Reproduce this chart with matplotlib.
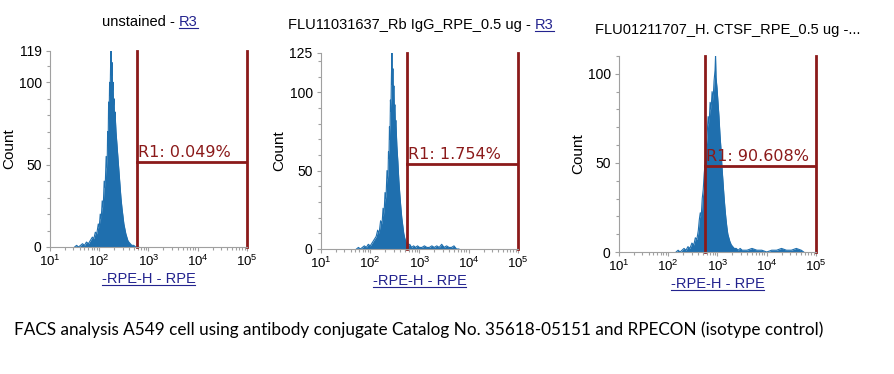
"""FACS histograms (A549, RPE channel): unstained, isotype control, CTSF antibody."""
import matplotlib
matplotlib.use("Agg")
import matplotlib.pyplot as plt
from matplotlib.lines import Line2D
from matplotlib.ticker import FixedLocator, LogLocator, NullFormatter

plt.rcParams["font.family"] = ["Liberation Sans", "DejaVu Sans"]
plt.rcParams["mathtext.fontset"] = "custom"
plt.rcParams["mathtext.rm"] = "Liberation Sans"

TITLES = ["unstained - ", "FLU11031637_Rb IgG_RPE_0.5 ug - ", "FLU01211707_H. CTSF_RPE_0.5 ug -..."]
TITLE_LINKS = ["R3", "R3", ""]
GATE_LABELS = ["R1: 0.049%", "R1: 1.754%", "R1: 90.608%"]
GATE_LOW = [590, 570, 556]
GATE_LEVEL = [51.6, 54.3, 48]
Y_MAX = [119, 125, 110]
CAPTION = "FACS analysis A549 cell using antibody conjugate Catalog No. 35618-05151 and RPECON (isotype control)"

# histograms: log10(RPE-H) bin position vs. event count
p1_log = [1.50, 1.54, 1.58, 1.62, 1.66, 1.70, 1.74, 1.78, 1.82, 1.86, 1.89, 1.92, 1.95, 1.98,
          2.00, 2.02, 2.04, 2.06, 2.08, 2.10, 2.12, 2.14, 2.16, 2.17, 2.18, 2.19, 2.20, 2.21,
          2.22, 2.23, 2.24, 2.25, 2.26, 2.27, 2.28, 2.29, 2.30, 2.31, 2.32, 2.34, 2.36, 2.38,
          2.40, 2.42, 2.44, 2.46, 2.48, 2.50, 2.52, 2.54, 2.56, 2.58, 2.60, 2.63, 2.66, 2.70,
          2.74, 2.80]
p1_count = [0, 1, 0, 1, 2, 1, 3, 2, 4, 6, 5, 9, 8, 14,
            12, 20, 17, 28, 24, 40, 36, 55, 48, 70, 62, 88, 78, 100,
            92, 110, 119, 104, 112, 95, 100, 86, 90, 78, 82, 70, 62, 54,
            46, 38, 30, 24, 19, 14, 11, 8, 6, 4, 3, 2, 1, 1,
            0, 0]

p2_log = [1.72, 1.76, 1.80, 1.84, 1.88, 1.92, 1.96, 2.00, 2.04, 2.08, 2.12, 2.15, 2.18, 2.21,
          2.24, 2.26, 2.28, 2.30, 2.32, 2.34, 2.36, 2.37, 2.38, 2.39, 2.40, 2.41, 2.42, 2.43,
          2.44, 2.45, 2.46, 2.47, 2.48, 2.49, 2.50, 2.51, 2.52, 2.54, 2.56, 2.58, 2.60, 2.62,
          2.64, 2.66, 2.68, 2.70, 2.72, 2.74, 2.76, 2.78, 2.80, 2.84, 2.88, 2.92, 2.96, 3.00,
          3.05, 3.10, 3.15, 3.20, 3.25, 3.30, 3.35, 3.40, 3.45, 3.50, 3.55, 3.60, 3.65, 3.70,
          3.75, 3.80]
p2_count = [0, 1, 0, 1, 2, 1, 3, 2, 4, 6, 8, 12, 10, 18,
            16, 26, 22, 36, 32, 50, 45, 62, 58, 78, 70, 95, 88, 110,
            125, 105, 115, 98, 104, 88, 92, 78, 82, 66, 56, 44, 35, 27,
            20, 15, 10, 7, 5, 3, 4, 2, 3, 1, 2, 1, 2, 1,
            1, 2, 1, 1, 2, 1, 2, 1, 3, 1, 2, 1, 1, 2,
            0, 0]

p3_log = [2.16, 2.20, 2.24, 2.28, 2.32, 2.36, 2.40, 2.44, 2.48, 2.52, 2.55, 2.58, 2.61, 2.63,
          2.65, 2.67, 2.69, 2.71, 2.73, 2.75, 2.77, 2.79, 2.81, 2.83, 2.85, 2.87, 2.89, 2.91,
          2.93, 2.95, 2.96, 2.97, 2.99, 3.01, 3.03, 3.05, 3.07, 3.09, 3.11, 3.13, 3.15, 3.17,
          3.19, 3.21, 3.23, 3.25, 3.28, 3.31, 3.34, 3.38, 3.42, 3.46, 3.50, 3.55, 3.60, 3.70,
          3.80, 3.90, 4.00, 4.10, 4.20, 4.30, 4.40, 4.50, 4.60, 4.70, 4.75]
p3_count = [0, 1, 0, 1, 2, 1, 3, 2, 5, 4, 8, 7, 12, 18,
            22, 20, 30, 35, 44, 50, 58, 66, 76, 72, 84, 80, 90, 85,
            96, 102, 110, 98, 92, 84, 76, 66, 58, 48, 40, 32, 25, 19,
            14, 10, 8, 6, 4, 3, 2, 2, 1, 2, 1, 1, 1, 2,
            1, 1, 0, 1, 1, 2, 1, 1, 2, 1, 0]

HISTS = [(p1_log, p1_count), (p2_log, p2_count), (p3_log, p3_count)]

# layout in figure pixels (left, top, width, height)
AX_BOXES = [(50, 51, 197, 196), (321, 53, 197, 196), (619, 56, 197, 196)]
TITLE_POS = [(150, 22), (421, 25), (728, 30)]

FIG_W, FIG_H = 895, 374
HIST_BLUE = "#1f6fae"
GATE_RED = "#8b1a1a"
LINK_BLUE = "#23238e"
AXIS_GRAY = "#a0a0a0"


def underlined_text(fig, renderer, x, y, s, **kw):
    t = fig.text(x / FIG_W, 1 - y / FIG_H, s, **kw)
    bb = t.get_window_extent(renderer)
    yl = bb.y0 + 1
    fig.add_artist(Line2D([bb.x0 / FIG_W, bb.x1 / FIG_W], [yl / FIG_H, yl / FIG_H],
                          color=kw.get("color", "black"), lw=0.8))
    return t


def main():
    fig = plt.figure(figsize=(FIG_W / 100, FIG_H / 100), dpi=100)
    renderer = fig.canvas.get_renderer()

    for i, (xs, ys) in enumerate(HISTS):
        l, t, w, h = AX_BOXES[i]
        ax = fig.add_axes([l / FIG_W, 1 - (t + h) / FIG_H, w / FIG_W, h / FIG_H])
        xv = [10 ** v for v in xs]
        ax.fill_between(xv, 0, ys, color=HIST_BLUE, lw=0)
        ax.plot(xv, ys, color=HIST_BLUE, lw=0.8)

        # gate R1
        lo = GATE_LOW[i]
        ax.plot([lo, lo], [0, Y_MAX[i]], color=GATE_RED, lw=2, clip_on=False)
        ax.plot([1e5, 1e5], [0, Y_MAX[i]], color=GATE_RED, lw=2, clip_on=False)
        ax.plot([lo, 1e5], [GATE_LEVEL[i]] * 2, color=GATE_RED, lw=2)
        ax.text(lo * 1.04, GATE_LEVEL[i] + 1.5, GATE_LABELS[i], color=GATE_RED,
                fontsize=11.5, family="DejaVu Sans", va="bottom", ha="left")

        ax.set_xscale("log")
        ax.set_xlim(10, 1e5)
        ax.set_ylim(0, Y_MAX[i])
        ax.set_xticks([10, 100, 1e3, 1e4, 1e5])
        ax.set_xticklabels([r"$10^{1}$", r"$10^{2}$", r"$10^{3}$", r"$10^{4}$", r"$10^{5}$"])
        ax.xaxis.set_minor_locator(LogLocator(base=10, subs=range(2, 10), numticks=20))
        ax.xaxis.set_minor_formatter(NullFormatter())
        yt = [0, 50, 100] + ([Y_MAX[i]] if i < 2 else [])
        ax.set_yticks(yt)
        ax.yaxis.set_minor_locator(FixedLocator(list(range(0, Y_MAX[i] + 1, 10))))
        ax.tick_params(which="both", colors=AXIS_GRAY, labelcolor="black", labelsize=10,
                       direction="out", width=0.8)
        ax.tick_params(which="major", length=3, pad=3)
        ax.tick_params(which="minor", length=2)
        ax.tick_params(axis="x", which="major", pad=2, labelsize=9.5)
        for side in ("top", "right"):
            ax.spines[side].set_visible(False)
        for side in ("left", "bottom"):
            ax.spines[side].set_color(AXIS_GRAY)
        ax.set_ylabel("Count", fontsize=11, labelpad=2)

        # title, with the gate link underlined
        tx, ty = TITLE_POS[i]
        if TITLE_LINKS[i]:
            pre = fig.text(0, 0, TITLES[i], fontsize=10.5)
            link = fig.text(0, 0, TITLE_LINKS[i], fontsize=10.5)
            wp = pre.get_window_extent(renderer).width
            wl = link.get_window_extent(renderer).width
            pre.remove()
            link.remove()
            x0 = tx - (wp + wl) / 2
            fig.text(x0 / FIG_W, 1 - ty / FIG_H, TITLES[i], fontsize=10.5, va="center", ha="left")
            underlined_text(fig, renderer, x0 + wp, ty, TITLE_LINKS[i], fontsize=10.5,
                            va="center", ha="left", color=LINK_BLUE)
        else:
            fig.text(tx / FIG_W, 1 - ty / FIG_H, TITLES[i], fontsize=10.5, va="center", ha="center")

        # x axis label (link style)
        underlined_text(fig, renderer, l + w / 2, t + h + 32, "-RPE-H - RPE", fontsize=10.5,
                        va="center", ha="center", color=LINK_BLUE)

    fig.text(14 / FIG_W, 1 - 330 / FIG_H, CAPTION, fontsize=12.3, family="Lato",
             va="center", ha="left")

    fig.savefig("out.png", dpi=100, facecolor="white")
    plt.close(fig)


if __name__ == "__main__":
    main()
